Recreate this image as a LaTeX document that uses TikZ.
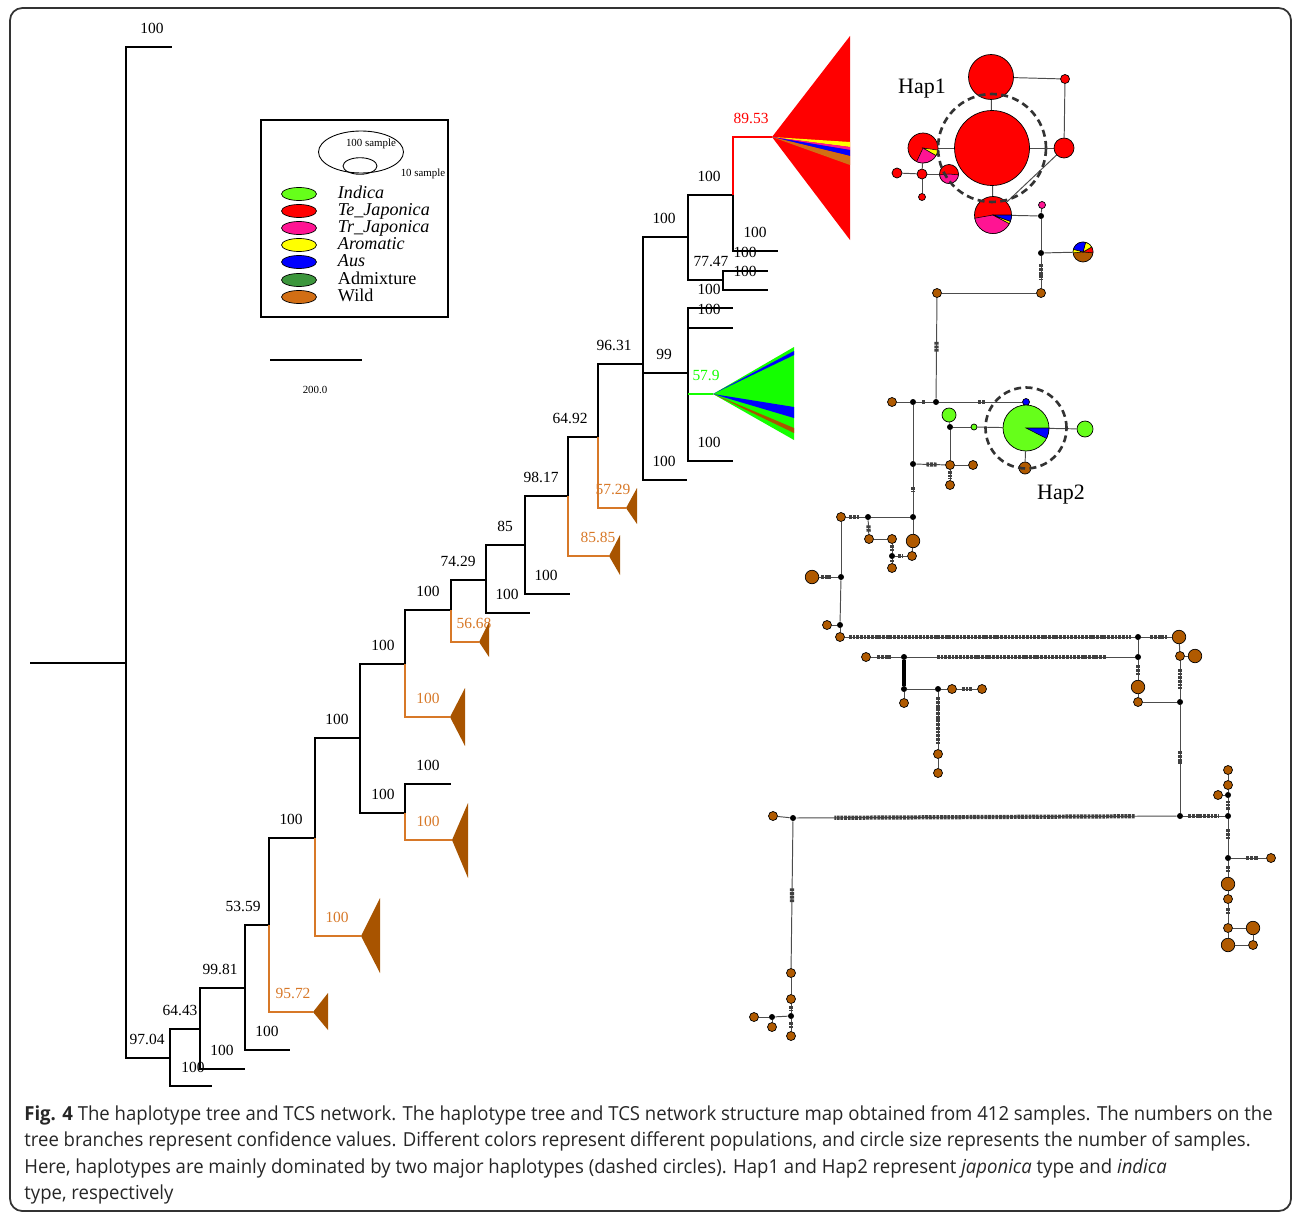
\documentclass[tikz,border=0pt]{standalone}
\usepackage{fontspec}
\setmainfont{Liberation Serif}
\newfontfamily\capfont[FakeStretch=0.96]{Open Sans}
\usetikzlibrary{positioning,shapes.geometric,backgrounds}

\definecolor{indica}{RGB}{102,255,26}
\definecolor{fangreen}{RGB}{20,255,0}
\definecolor{tej}{RGB}{255,0,0}
\definecolor{trj}{RGB}{255,20,147}
\definecolor{arom}{RGB}{255,255,0}
\definecolor{aus}{RGB}{0,0,255}
\definecolor{admix}{RGB}{60,150,60}
\definecolor{wildkey}{RGB}{210,110,20}
\definecolor{wildnet}{RGB}{176,90,0}
\definecolor{treebrown}{RGB}{168,84,0}
\definecolor{orangebr}{RGB}{215,120,40}

\newcommand{\hapslice}[5]{\filldraw[fill=#1, draw=black, line width=0.3pt] (#2.center) -- ++(#3:#5) arc[start angle=#3, end angle=#4, radius=#5] -- cycle;}

\tikzset{
  br/.style={line width=1.1pt, black},
  obr/.style={line width=1.1pt, orangebr},
  lab/.style={font=\fontsize{8.8}{10}\selectfont, inner sep=1pt, above=6pt, pos=1, xshift=#1*0.567pt},
  lab/.default=-23,
  olab/.style={lab=#1, text=orangebr},
  olab/.default=-23,
  tri/.style={fill=treebrown},
  swatch/.style={draw=black, line width=0.4pt, ellipse, minimum width=0.7cm, minimum height=0.26cm, inner sep=0pt},
  keytxt/.style={font=\fontsize{10.3}{11}\selectfont, inner sep=1pt, text height=1.5ex, text depth=0.4ex, right=0.38cm of #1},
  smalltxt/.style={font=\fontsize{6.2}{7}\selectfont, inner sep=0pt},
  hap/.style={circle, draw=black, line width=0.4pt, inner sep=0pt},
  wsm/.style={hap, fill=wildnet, minimum size=0.18cm},
  wlg/.style={hap, fill=wildnet, minimum size=0.27cm},
  mv/.style={circle, fill=black, inner sep=0pt, minimum size=0.12cm},
  link/.style={draw=black!70, line width=0.55pt},
  muts/.style 2 args={postaction={draw=black!75, line width=2.4pt, dash pattern=on 1.6pt off 0.5pt, shorten <=#1, shorten >=#2}},
  haplab/.style={font=\fontsize{12.5}{14}\selectfont, inner sep=0pt},
}

\begin{document}
\begin{tikzpicture}[x=0.02cm, y=-0.02cm]
\useasboundingbox (0,0) rectangle (1293,1213);
\draw[line width=1pt, black!80, rounded corners=7pt] (10,8) rectangle (1291,1211);

% tree
\coordinate (root) at (30,663);
\coordinate (A) at (126,663);
\coordinate (a1) at (172,47);
\coordinate (B) at (170,1058);
\coordinate (b1) at (212,1086);
\coordinate (C) at (200,1029);
\coordinate (c1) at (245,1069);
\coordinate (D) at (245,988);
\coordinate (d1) at (290,1050);
\coordinate (E) at (269,925);
\coordinate (e1) at (313,1012);
\coordinate (F) at (315,838);
\coordinate (f1) at (361,936);
\coordinate (G) at (360,738);
\coordinate (H) at (405,664);
\coordinate (h1) at (450,717);
\coordinate (I) at (405,813);
\coordinate (i1) at (451,784);
\coordinate (i2) at (452,840);
\coordinate (J) at (451,610);
\coordinate (j1) at (479,642);
\coordinate (K) at (486,580);
\coordinate (k1) at (530,613);
\coordinate (L) at (525,545);
\coordinate (l1) at (570,594);
\coordinate (M) at (568,496);
\coordinate (m1) at (609,556);
\coordinate (N) at (598,437);
\coordinate (n1) at (626,508);
\coordinate (O) at (643,364);
\coordinate (o1) at (687,480);
\coordinate (P) at (688,237);
\coordinate (Q) at (688,373);
\coordinate (R) at (733,195);
\coordinate (r1) at (772,137);
\coordinate (r2) at (778,251);
\coordinate (S) at (723,280);
\coordinate (s1) at (768,271);
\coordinate (s2) at (768,290);
\coordinate (q1) at (733,308);
\coordinate (q2) at (733,328);
\coordinate (q3) at (713,394);
\coordinate (q4) at (733,461);

\draw[br] (root) -- (A);
\draw[br] (A) |- node[lab=-20]{100} (a1);
\draw[br] (A) |- node[lab]{97.04} (B);
\draw[br] (B) |- node[lab=-20]{64.43} (C);
\draw[br] (B) |- node[lab=-19]{100} (b1);
\draw[br] (C) |- node[lab=-25]{99.81} (D);
\draw[br] (C) |- node[lab]{100} (c1);
\draw[br] (D) |- node[lab=-26]{53.59} (E);
\draw[br] (D) |- node[lab]{100} (d1);
\draw[br] (E) |- node[lab=-24]{100} (F);
\draw[obr] (E) |- node[olab=-20]{95.72} (e1);
\draw[br] (F) |- node[lab]{100} (G);
\draw[obr] (F) |- node[olab=-24]{100} (f1);
\draw[br] (G) |- node[lab=-22]{100} (H);
\draw[br] (G) |- node[lab=-22]{100} (I);
\draw[br] (I) |- node[lab]{100} (i1);
\draw[obr] (I) |- node[olab=-24]{100} (i2);
\draw[br] (H) |- node[lab]{100} (J);
\draw[obr] (H) |- node[olab=-22]{100} (h1);
\draw[br] (J) |- node[lab=-28]{74.29} (K);
\draw[obr] (J) |- node[olab=-5]{56.68} (j1);
\draw[br] (K) |- node[lab=-20]{85} (L);
\draw[br] (K) |- node[lab]{100} (k1);
\draw[br] (L) |- node[lab=-27]{98.17} (M);
\draw[br] (L) |- node[lab=-24]{100} (l1);
\draw[br] (M) |- node[lab=-28]{64.92} (N);
\draw[obr] (M) |- node[olab=-11]{85.85} (m1);
\draw[br] (N) |- node[lab=-29]{96.31} (O);
\draw[obr] (N) |- node[olab=-13]{57.29} (n1);
\draw[br] (O) |- node[lab=-24]{100} (P);
\draw[br] (O) |- node[lab=-24]{99} (Q);
\draw[br] (O) |- node[lab]{100} (o1);
\draw[br] (P) |- node[lab=-24]{100} (R);
\draw[br] (P) |- node[lab=-12]{77.47} (S);
\draw[br, tej] (R) |- node[lab=-21, text=tej]{89.53} (r1);
\draw[br] (R) |- node[lab]{100} (r2);
\draw[br] (S) |- node[lab]{100} (s1);
\draw[br] (S) |- node[lab]{100} (s2);
\draw[br] (Q) |- node[lab=-24]{100} (q1);
\draw[br] (Q) |- node[lab=-24]{100} (q2);
\draw[br] (Q) |- node[lab=-24]{100} (q4);
\draw[br, fangreen] (Q |- q3) -- node[lab=-7, text=fangreen]{57.9} (q3);

% collapsed clades
\fill[tri] (e1) -- ++(15,-19) -- ++(0,37) -- cycle;
\fill[tri] (f1) -- ++(19,-38) -- ++(0,75) -- cycle;
\fill[tri] (i2) -- ++(16,-37) -- ++(0,75) -- cycle;
\fill[tri] (h1) -- ++(15,-29) -- ++(0,58) -- cycle;
\fill[tri] (j1) -- ++(10,-20) -- ++(0,35) -- cycle;
\fill[tri] (m1) -- ++(11,-21) -- ++(0,40) -- cycle;
\fill[tri] (n1) -- ++(11,-20) -- ++(0,36) -- cycle;

\fill[tej] (r1) -- (850,36) -- (850,240) -- cycle;
\fill[arom] (r1) -- (850,142) -- (850,147) -- cycle;
\fill[trj] (r1) -- (850,147) -- (850,150) -- cycle;
\fill[aus] (r1) -- (850,150) -- (850,156) -- cycle;
\fill[wildkey] (r1) -- (850,156) -- (850,165) -- cycle;

\fill[fangreen] (q3) -- (794,347) -- (794,440) -- cycle;
\fill[aus] (q3) -- (794,351) -- (794,355) -- cycle;
\fill[aus] (q3) -- (794,407) -- (794,418) -- cycle;
\fill[treebrown] (q3) -- (794,428) -- (794,433) -- cycle;

% legend
\draw[line width=0.6pt] (261,120) rectangle (448,317);
\node[draw, ellipse, line width=0.5pt, minimum width=1.7cm, minimum height=0.84cm] (s100) at (361,152) {};
\node[draw, ellipse, line width=0.5pt, minimum width=0.68cm, minimum height=0.26cm] (s10) at (360,166) {};
\node[smalltxt] (t100) at (371,144) {100 sample};
\node[smalltxt] (t10) at (423,174) {10 sample};
\node[swatch, fill=indica] (k1) at (299,194) {};
\node[swatch, fill=tej] (k2) at (299,211) {};
\node[swatch, fill=trj] (k3) at (299,228) {};
\node[swatch, fill=arom] (k4) at (299,245) {};
\node[swatch, fill=aus] (k5) at (299,262) {};
\node[swatch, fill=admix] (k6) at (299,280) {};
\node[swatch, fill=wildkey] (k7) at (299,297) {};
\node[keytxt=k1] (kt1) {\textit{Indica}};
\node[keytxt=k2] (kt2) {\textit{Te\_Japonica}};
\node[keytxt=k3] (kt3) {\textit{Tr\_Japonica}};
\node[keytxt=k4] (kt4) {\textit{Aromatic}};
\node[keytxt=k5] (kt5) {\textit{Aus}};
\node[keytxt=k6] (kt6) {Admixture};
\node[keytxt=k7] (kt7) {Wild};

\coordinate (sb1) at (270,360);
\coordinate (sb2) at (362,360);
\draw[line width=1.6pt] (sb1) -- (sb2);
\node[smalltxt] (sbt) at (315,390) {200.0};

% network: Hap1
\node[hap, fill=tej, minimum size=1.5cm] (hapA) at (992,148) {};
\node[hap, fill=tej, minimum size=0.9cm] (tA1) at (991,77) {};
\node[hap, fill=tej, minimum size=0.18cm] (tA2) at (1065,79) {};
\node[hap, fill=tej, minimum size=0.4cm] (tA3) at (1064,148) {};
\node[hap, fill=tej, minimum size=0.6cm] (pA1) at (923,148) {};
\node[hap, fill=tej, minimum size=0.38cm] (pA2) at (949,174) {};
\node[hap, fill=tej, minimum size=0.2cm] (tA4) at (922,174) {};
\node[hap, fill=tej, minimum size=0.2cm] (tA5) at (897,173) {};
\node[hap, fill=tej, minimum size=0.14cm] (tA6) at (922,197) {};
\node[hap, fill=tej, minimum size=0.74cm] (pA3) at (993,215) {};
\node[hap, fill=trj, minimum size=0.14cm] (tA7) at (1042,205) {};
\node[mv] (v1) at (1041,216) {};
\node[mv] (v2) at (1041,253) {};
\node[hap, fill=wildnet, minimum size=0.4cm] (pA4) at (1083,252) {};
\node[wsm] (w1) at (1041,293) {};
\node[wsm] (w2) at (937,293) {};

\hapslice{trj}{pA1}{-115}{-30}{0.3cm}
\hapslice{arom}{pA1}{-30}{-8}{0.3cm}
\hapslice{trj}{pA2}{185}{355}{0.19cm}
\hapslice{trj}{pA3}{190}{332}{0.37cm}
\hapslice{arom}{pA3}{332}{340}{0.37cm}
\hapslice{aus}{pA3}{340}{360}{0.37cm}
\hapslice{tej}{pA4}{-5}{30}{0.2cm}
\hapslice{arom}{pA4}{30}{75}{0.2cm}
\hapslice{aus}{pA4}{75}{165}{0.2cm}
\hapslice{arom}{pA4}{165}{185}{0.2cm}

% network: Hap2 and wild haplotypes
\node[mv] (v3) at (936,402) {};
\node[mv] (v4) at (913,402) {};
\node[wsm] (w3) at (892,402) {};
\node[hap, fill=aus, minimum size=0.14cm] (tB1) at (1026,402) {};
\node[hap, fill=indica, minimum size=0.28cm] (tB2) at (949,415) {};
\node[mv] (v5) at (950,427) {};
\node[hap, fill=indica, minimum size=0.12cm] (tB3) at (974,427) {};
\node[hap, fill=indica, minimum size=0.92cm] (hapB) at (1026,428) {};
\node[hap, fill=indica, minimum size=0.32cm] (tB4) at (1085,429) {};
\node[hap, fill=wildnet, minimum size=0.24cm] (tB5) at (1025,468) {};
\hapslice{aus}{hapB}{-27}{0}{0.46cm}
\draw[line width=0.4pt] (tB5.center) -- (tB5.170);
\node[mv] (v6) at (913,464) {};
\node[wsm] (w5) at (950,465) {};
\node[wsm] (w6) at (973,465) {};
\node[wsm] (w7) at (950,485) {};
\node[mv] (v7) at (913,517) {};
\node[mv] (v8) at (868,517) {};
\node[wsm] (w8) at (841,517) {};
\node[wlg] (w9) at (913,541) {};
\node[wsm] (w10) at (912,556) {};
\node[wsm] (w11) at (869,539) {};
\node[wsm] (w12) at (892,539) {};
\node[mv] (v9) at (892,556) {};
\node[wsm] (w13) at (892,568) {};
\node[mv] (v10) at (841,577) {};
\node[wlg] (w14) at (812,577) {};
\node[mv] (v11) at (840,625) {};
\node[wsm] (w15) at (827,625) {};
\node[wsm] (w16) at (840,637) {};
\node[mv] (v12) at (1138,637) {};
\node[wlg] (w17) at (1179,637) {};
\node[mv] (v13) at (1138,657) {};
\node[mv] (v14) at (904,657) {};
\node[wsm] (w18) at (866,657) {};
\node[mv] (v15) at (904,689) {};
\node[wsm] (w19) at (904,703) {};
\node[mv] (v16) at (938,689) {};
\node[wsm] (w20) at (952,689) {};
\node[wsm] (w21) at (982,689) {};
\node[wsm] (w22) at (938,754) {};
\node[wsm] (w23) at (938,773) {};
\node[wlg] (w24) at (1138,687) {};
\node[wsm] (w25) at (1138,702) {};
\node[mv] (v17) at (1180,702) {};
\node[wsm] (w26) at (1180,656) {};
\node[wlg] (w27) at (1195,656) {};
\node[mv] (v18) at (1180,816) {};
\node[mv] (v19) at (793,818) {};
\node[wsm] (w28) at (773,816) {};
\node[mv] (v20) at (1228,816) {};
\node[mv] (v21) at (1228,795) {};
\node[wsm] (w29) at (1228,785) {};
\node[wsm] (w30) at (1228,770) {};
\node[wsm] (w31) at (1218,795) {};
\node[mv] (v22) at (1228,858) {};
\node[wsm] (w32) at (1271,858) {};
\node[wlg] (w33) at (1228,884) {};
\node[wsm] (w34) at (1228,899) {};
\node[wsm] (w35) at (1228,928) {};
\node[wlg] (w36) at (1228,945) {};
\node[wlg] (w37) at (1253,928) {};
\node[wsm] (w38) at (1253,945) {};
\node[wsm] (w39) at (791,973) {};
\node[wsm] (w40) at (791,999) {};
\node[mv] (v23) at (791,1016) {};
\node[wsm] (w41) at (791,1036) {};
\node[mv] (v24) at (772,1017) {};
\node[wsm] (w42) at (754,1017) {};
\node[wsm] (w43) at (772,1027) {};

\begin{scope}[on background layer]
\draw[link] (tA1) -- (hapA);
\draw[link] (tA1) -- (tA2);
\draw[link] (tA2) -- (tA3);
\draw[link] (hapA) -- (tA3);
\draw[link] (tA3) -- (pA3);
\draw[link] (hapA) -- (pA1);
\draw[link] (hapA) -- (pA3);
\draw[link] (pA1) -- (tA4);
\draw[link] (tA4) -- (tA5);
\draw[link] (tA4) -- (tA6);
\draw[link] (tA4) -- (pA2);
\draw[link] (pA3) -- (v1);
\draw[link] (tA7) -- (v1);
\draw[link] (v1) -- (v2);
\draw[link] (v2) -- (pA4);
\draw[link, muts={0.16cm}{0.17cm}] (v2) -- (w1);
\draw[link] (w1) -- (w2);
\draw[link, muts={0.88cm}{0.94cm}] (w2) -- (v3);
\draw[link, muts={0.78cm}{0.75cm}] (v3) -- (tB1);
\draw[link, muts={0.12cm}{0.14cm}] (v4) -- (v3);
\draw[link] (w3) -- (v4);
\draw[link] (tB2) -- (v5);
\draw[link] (v5) -- (tB3);
\draw[link] (tB3) -- (hapB);
\draw[link] (hapB) -- (tB4);
\draw[link] (hapB) -- (tB5);
\draw[link] (v4) -- (v6);
\draw[link, muts={0.2cm}{0.17cm}] (v6) -- (w5);
\draw[link] (v5) -- (w5);
\draw[link] (w5) -- (w6);
\draw[link, muts={0.02cm}{0.02cm}] (w5) -- (w7);
\draw[link, muts={0.4cm}{0.45cm}] (v6) -- (v7);
\draw[link] (v7) -- (v8);
\draw[link, muts={0.07cm}{0.12cm}] (w8) -- (v8);
\draw[link] (v7) -- (w9);
\draw[link] (w9) -- (w10);
\draw[link, muts={0.1cm}{0.05cm}] (v8) -- (w11);
\draw[link] (w11) -- (w12);
\draw[link, muts={0.02cm}{0.02cm}] (w12) -- (v9);
\draw[link, muts={0.02cm}{0.02cm}] (v9) -- (w13);
\draw[link, muts={0.06cm}{0.1cm}] (v9) -- (w10);
\draw[link] (w8) -- (v10);
\draw[link, muts={0.04cm}{0.14cm}] (w14) -- (v10);
\draw[link] (v10) -- (v11);
\draw[link] (w15) -- (v11);
\draw[link] (v11) -- (w16);
\draw[link, muts={0.08cm}{0.08cm}] (w16) -- (v12);
\draw[link, muts={0.18cm}{0.1cm}] (v12) -- (w17);
\draw[link] (v12) -- (v13);
\draw[link, muts={0.58cm}{0.58cm}] (v13) -- (v14);
\draw[link, muts={0.13cm}{0.2cm}] (w18) -- (v14);
\draw[line width=2.4pt] (v14) -- (v15);
\draw[link] (v15) -- (w19);
\draw[link] (v15) -- (v16);
\draw[link] (v16) -- (w20);
\draw[link, muts={0.1cm}{0.1cm}] (w20) -- (w21);
\draw[link, muts={0.1cm}{0.1cm}] (v16) -- (w22);
\draw[link] (w22) -- (w23);
\draw[link, muts={0.1cm}{0.1cm}] (v13) -- (w24);
\draw[link] (w24) -- (w25);
\draw[link] (w25) -- (v17);
\draw[link] (w17) -- (w26);
\draw[link] (w26) -- (w27);
\draw[link, muts={0.16cm}{0.2cm}] (w26) -- (v17);
\draw[link, muts={0.92cm}{0.98cm}] (v17) -- (v18);
\draw[link, muts={0.84cm}{0.76cm}] (v18) -- (v19);
\draw[link] (w28) -- (v19);
\draw[link, muts={0.1cm}{0.12cm}] (v18) -- (v20);
\draw[link, muts={0.05cm}{0.05cm}] (v20) -- (v21);
\draw[link] (v21) -- (w29);
\draw[link] (w29) -- (w30);
\draw[link] (w31) -- (v21);
\draw[link, muts={0.2cm}{0.32cm}] (v20) -- (v22);
\draw[link, muts={0.3cm}{0.17cm}] (v22) -- (w32);
\draw[link, muts={0.1cm}{0.1cm}] (v22) -- (w33);
\draw[link] (w33) -- (w34);
\draw[link, muts={0.08cm}{0.18cm}] (w34) -- (w35);
\draw[link] (w35) -- (w36);
\draw[link] (w35) -- (w37);
\draw[link] (w37) -- (w38);
\draw[link] (w36) -- (w38);
\draw[link, muts={1.34cm}{1.32cm}] (v19) -- (w39);
\draw[link] (w39) -- (w40);
\draw[link, muts={0.05cm}{0.05cm}] (w40) -- (v23);
\draw[link, muts={0.05cm}{0.05cm}] (v23) -- (w41);
\draw[link] (v23) -- (v24);
\draw[link] (v24) -- (w42);
\draw[link] (v24) -- (w43);
\end{scope}

% major haplotypes
\draw[black!80, line width=1.5pt, dash pattern=on 4pt off 2.5pt] (hapA.center) circle[radius=1.08cm];
\draw[black!80, line width=1.5pt, dash pattern=on 4pt off 2.5pt] (hapB.center) circle[radius=0.81cm];
\node[haplab] (hl1) at (922,89) {Hap1};
\node[haplab] (hl2) at (1061,495) {Hap2};

% caption
\node[anchor=north west, align=left, inner sep=0pt, text=black!85,
  font=\capfont\fontsize{11}{15.1}\selectfont] (cap) at (24,1105)
  {\textbf{Fig. 4} The haplotype tree and TCS network. The haplotype tree and TCS network structure map obtained from 412 samples. The numbers on the\\
   tree branches represent confidence values. Different colors represent different populations, and circle size represents the number of samples.\\
   Here, haplotypes are mainly dominated by two major haplotypes (dashed circles). Hap1 and Hap2 represent \textit{japonica} type and \textit{indica}\\
   type, respectively};
\end{tikzpicture}
\end{document}
